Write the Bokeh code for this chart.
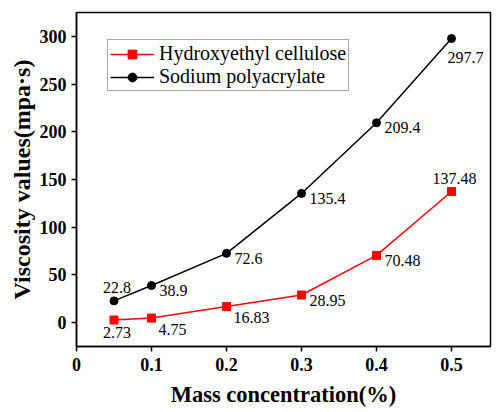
from bokeh.plotting import figure
from bokeh.models import FixedTicker, CustomJSTickFormatter, Range1d, ColumnDataSource
from bokeh.core.properties import value
from bokeh.embed import file_html
from bokeh.resources import INLINE

# Viscosity vs. mass concentration
conc = [0.05, 0.1, 0.2, 0.3, 0.4, 0.5]
hec_visc = [2.73, 4.75, 16.83, 28.95, 70.48, 137.48]
spa_visc = [22.8, 38.9, 72.6, 135.4, 209.4, 297.7]
hec_name = "Hydroxyethyl cellulose"
spa_name = "Sodium polyacrylate"
x_ticks = [0, 0.1, 0.2, 0.3, 0.4, 0.5]
y_ticks = [0, 50, 100, 150, 200, 250, 300]

# where each value label sits relative to its marker
hec_label_pos = ["below", "right_low", "right_low", "right", "right", "above"]
spa_label_pos = ["above", "right", "right", "right", "right", "below_right"]

SERIF = "Liberation Serif"

PLACEMENT = {
    "above": ("center", 3, -13),
    "below": ("center", 3, 12),
    "right": ("left", 8, 5),
    "right_low": ("left", 7, 11),
    "below_right": ("left", -4, 19),
}

p = figure(width=500, height=412, output_backend="svg", toolbar_location=None,
           x_range=Range1d(0, 0.552), y_range=Range1d(-25, 325),
           min_border_left=76, min_border_right=10, min_border_top=12,
           min_border_bottom=66)
p.background_fill_color = "white"
p.border_fill_color = "white"
p.outline_line_color = "black"
p.outline_line_width = 1.5
p.grid.visible = False

for ax in (p.xaxis[0], p.yaxis[0]):
    ax.axis_line_width = 1.5
    ax.major_tick_line_width = 1.5
    ax.minor_tick_line_color = None
    ax.major_tick_in = 0
    ax.major_tick_out = 5
    ax.major_label_text_font = SERIF
    ax.major_label_text_font_style = "bold"
    ax.major_label_text_font_size = "18px"
    ax.major_label_text_color = "black"
    ax.axis_label_text_font = SERIF
    ax.axis_label_text_font_style = "bold"
    ax.axis_label_text_color = "black"

p.xaxis.axis_label_text_font_size = "22.5px"
p.yaxis.axis_label_text_font_size = "24px"
p.xaxis.ticker = FixedTicker(ticks=x_ticks)
p.xaxis.formatter = CustomJSTickFormatter(code="return tick == 0 ? '0' : tick.toFixed(1);")
p.yaxis.ticker = FixedTicker(ticks=y_ticks)
p.xaxis.axis_label = "Mass concentration(%)"
p.yaxis.axis_label = "Viscosity values(mpa·s)"
p.xaxis.major_label_standoff = 6
p.yaxis.major_label_standoff = 5
p.xaxis.axis_label_standoff = 8
p.yaxis.axis_label_standoff = 2

# series
p.line(conc, hec_visc, line_color="red", line_width=1.5, legend_label=hec_name)
p.scatter(conc, hec_visc, marker="square", size=8, fill_color="red", line_color="red",
          legend_label=hec_name)
p.line(conc, spa_visc, line_color="black", line_width=1.5, legend_label=spa_name)
p.scatter(conc, spa_visc, marker="circle", size=8, fill_color="black", line_color="black",
          legend_label=spa_name)


def labels(xs, ys, positions):
    aligns, dxs, dys = [], [], []
    for pos in positions:
        a, dx, dy = PLACEMENT[pos]
        aligns.append(a)
        dxs.append(dx)
        dys.append(dy)
    src = ColumnDataSource(dict(x=xs, y=ys, t=[f"{v:g}" for v in ys],
                                a=aligns, dx=dxs, dy=dys))
    p.text(x="x", y="y", text="t", source=src, text_align="a", x_offset="dx",
           y_offset="dy", text_baseline="middle", text_font=value(SERIF),
           text_font_size="16px", text_color="black")


labels(conc, hec_visc, hec_label_pos)
labels(conc, spa_visc, spa_label_pos)

leg = p.legend[0]
leg.location = (31, 255)
leg.border_line_color = "#555555"
leg.border_line_width = 1
leg.background_fill_color = "white"
leg.label_text_font = SERIF
leg.label_text_font_size = "20px"
leg.label_text_color = "black"
leg.glyph_width = 44
leg.glyph_height = 22
leg.label_height = 22
leg.label_standoff = 5
leg.padding = 2
leg.spacing = 0
leg.margin = 0

open("out.html", "w").write(file_html(p, INLINE))
